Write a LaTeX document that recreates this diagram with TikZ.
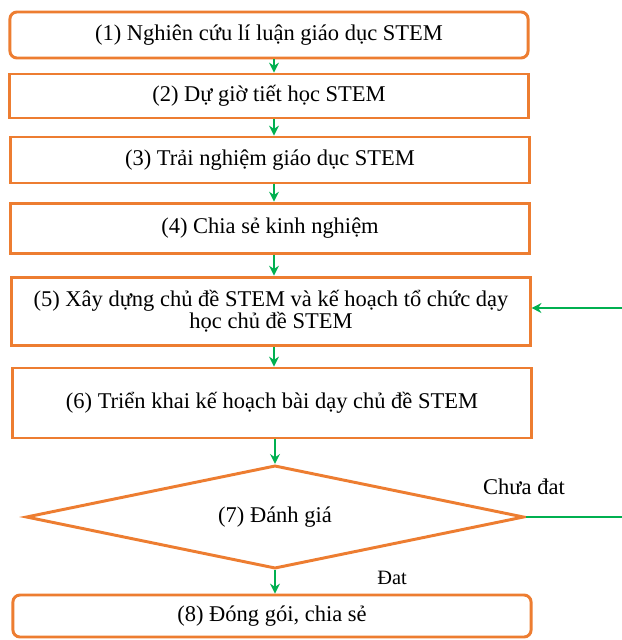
\documentclass[tikz,border=0pt]{standalone}
\usepackage{fontspec}
\setmainfont{Liberation Serif}
\usetikzlibrary{arrows.meta, shapes.geometric}

\definecolor{boxorange}{RGB}{237,125,49}
\definecolor{arrowgreen}{RGB}{0,176,80}

\begin{document}
\begin{tikzpicture}[x=0.025cm, y=-0.025cm,
    stepbox/.style={draw=boxorange, line width=2.1pt, fill=white, minimum width=12.95cm,
        align=center, font=\fontsize{16}{15.6}\selectfont},
    flow/.style={draw=arrowgreen, line width=1.1pt, -{Stealth[length=7pt, width=7pt]}}]
    \useasboundingbox (0,0) rectangle (621,640);

    % Steps
    \node[stepbox, rounded corners=5pt, minimum height=1.15cm] (s1) at (269,35)
        {(1) Nghiên cứu lí luận giáo dục STEM};
    \node[stepbox, minimum height=1.1cm] (s2) at (269,96) {(2) Dự giờ tiết học STEM};
    \node[stepbox, minimum height=1.15cm] (s3) at (270,160) {(3) Trải nghiệm giáo dục STEM};
    \node[stepbox, minimum height=1.27cm] (s4) at (270,228.5) {(4) Chia sẻ kinh nghiệm};
    \node[stepbox, minimum height=1.72cm] (s5) at (271,311.5)
        {(5) Xây dựng chủ đề STEM và kế hoạch tổ chức dạy\\học chủ đề STEM};
    \node[stepbox, minimum height=1.75cm] (s6) at (272,403) {(6) Triển khai kế hoạch bài dạy chủ đề STEM};

    % Decision
    \node[stepbox, diamond, aspect=4.9, minimum width=12.45cm, minimum height=2.58cm, inner sep=0pt]
        (s7) at (275,517) {(7) Đánh giá};

    \node[stepbox, rounded corners=5pt, minimum height=1.05cm] (s8) at (272,616) {(8) Đóng gói, chia sẻ};

    % Arrows
    \draw[flow] (s1.south -| 274,0) -- (s2.north -| 274,0);
    \draw[flow] (s2.south -| 274,0) -- (s3.north -| 274,0);
    \draw[flow] (s3.south -| 274,0) -- (s4.north -| 274,0);
    \draw[flow] (s4.south -| 274,0) -- (s5.north -| 274,0);
    \draw[flow] (s5.south -| 274,0) -- (s6.north -| 274,0);
    \draw[flow] (s6.south -| s7.north) -- (s7.north);
    \draw[flow] (s7.south) -- (s8.north -| s7.south);

    % Loop back
    \coordinate (back) at (626,308);
    \draw[flow] (s7.east) -- (s7.east -| back) -- (back) -- (s5.east |- back);

    % Labels
    \node[font=\fontsize{16}{18}\selectfont] (fail) at (524,487) {Chưa đat};
    \node[font=\fontsize{14.5}{16}\selectfont] (pass) at (392,578) {Đat};
\end{tikzpicture}
\end{document}
